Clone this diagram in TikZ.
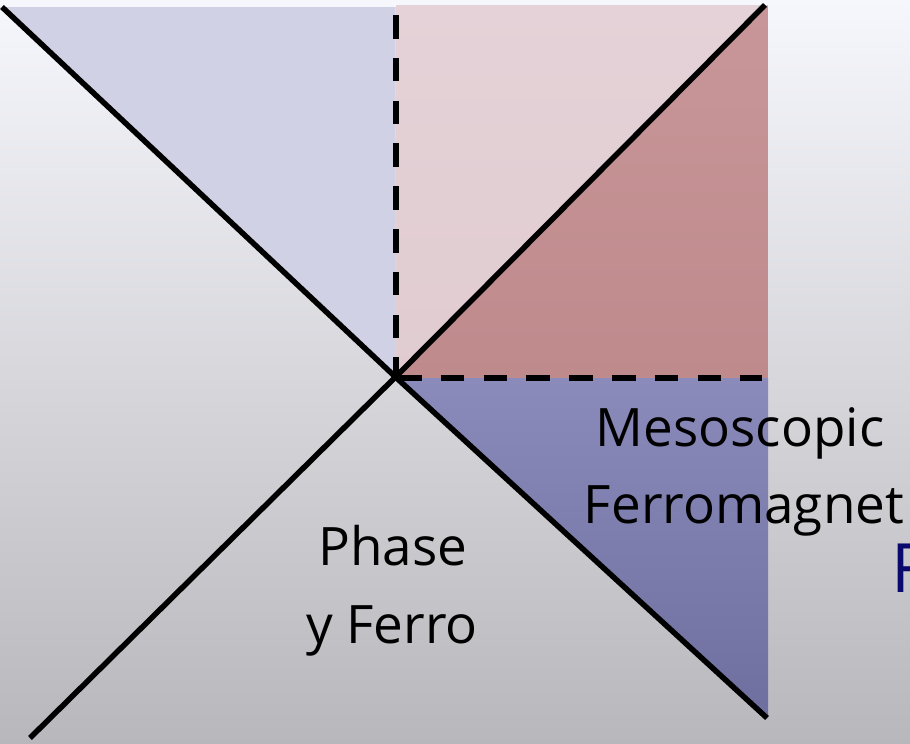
\documentclass[tikz,border=0pt]{standalone}
\usepackage{fontspec}
\setmainfont{Open Sans}
\definecolor{bgtop}{HTML}{F6F7FC}
\definecolor{bgbot}{HTML}{B8B7BC}
\definecolor{lav}{HTML}{D0D1E5}
\definecolor{pinktop}{HTML}{E4D2D8}
\definecolor{pinkbot}{HTML}{E0CCD0}
\definecolor{redtop}{HTML}{C89699}
\definecolor{redbot}{HTML}{BF8A8C}
\definecolor{bluetop}{HTML}{8A8BBA}
\definecolor{bluebot}{HTML}{6E6F9F}
\definecolor{navy}{HTML}{0A0A6E}
\begin{document}
\begin{tikzpicture}[x=1pt,y=-1pt,
  phaseline/.style={line width=5.5pt,black},
  dashline/.style={line width=6pt,black,dash pattern=on 23.5pt off 19.3pt},
  lbl/.style={font=\fontsize{53}{60}\selectfont,inner sep=0pt,anchor=base}]
\useasboundingbox (0,0) rectangle (910,744);
\clip (0,0) rectangle (910,744);
\shade[top color=bgtop,bottom color=bgbot] (0,0) rectangle (910,744);
% regions
\coordinate (O) at (395.5,377);
\coordinate (TL) at (2,7);
\coordinate (TM) at (395.5,7);
\coordinate (TR) at (765,5);
\coordinate (BR) at (767,718);
\coordinate (BL) at (30,738);
\fill[lav] (0,7) -- (395.5,7) -- (395.5,377) -- cycle;
\shade[top color=pinktop,bottom color=pinkbot] (396,5) -- (768,5) -- (396,378) -- cycle;
\shade[top color=redtop,bottom color=redbot] (396,378) -- (768,5) -- (768,378) -- cycle;
\shade[top color=bluetop,bottom color=bluebot] (396,378) -- (768,378) -- (768,718) -- (396,378) -- cycle;
% lines
\draw[phaseline] (TL) -- (O) -- (BR);
\draw[phaseline] (BL) -- (O) -- (TR);
\coordinate (V1) at (395.5,15);
\coordinate (V2) at (395.5,380);
\coordinate (H1) at (398,378);
\coordinate (H2) at (762,378);
\draw[dashline] (V1) -- (V2);
\draw[dashline] (H1) -- (H2);
% labels
\node[lbl] (meso) at (740,446) {Mesoscopic};
\node[lbl] (ferro) at (744,523) {Ferromagnet};
\node[lbl] (phase) at (393,565) {Phase};
\node[lbl] (yferro) at (392,643) {y Ferro};
\node[lbl,font=\fontsize{68}{70}\selectfont,anchor=base west,text=navy] (fcut) at (891,592) {F};
\end{tikzpicture}
\end{document}
